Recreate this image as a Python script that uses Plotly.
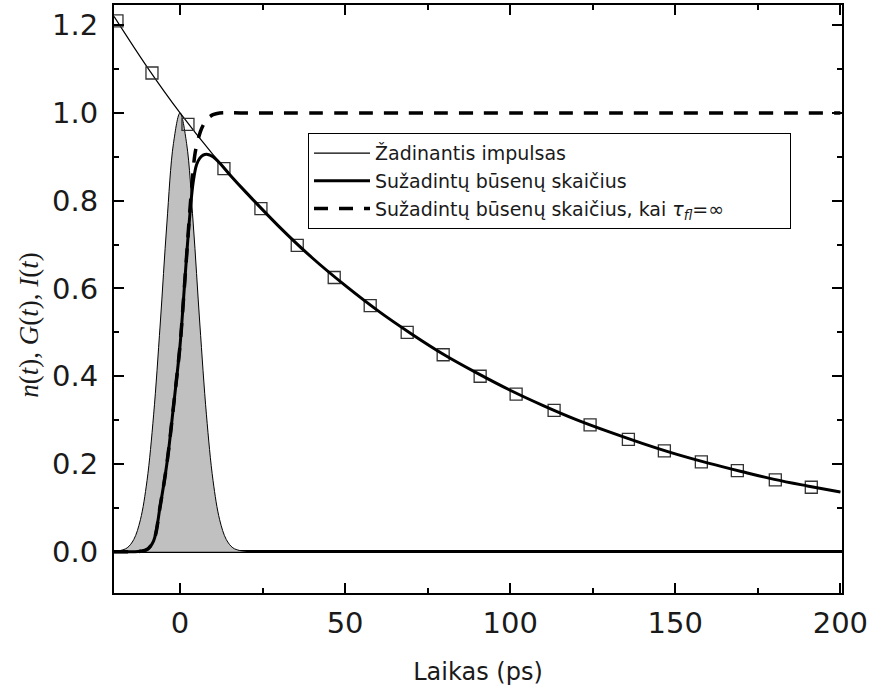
import plotly.graph_objects as go

# ---- data ----
# excitation pulse (grey filled gaussian)
pulse_t = [-20, -18, -16, -14, -12, -10, -8, -6, -4, -2, 0, 2, 4, 6, 8, 10, 12, 14, 16, 18, 20]
pulse_y = [0.001, 0.003, 0.009, 0.028, 0.073, 0.162, 0.312, 0.519, 0.747, 0.930, 1.0,
           0.930, 0.747, 0.519, 0.312, 0.162, 0.073, 0.028, 0.009, 0.003, 0.001]

# thin decay line
decay_t = [-20, -10, 0, 10, 20, 30, 40, 50, 60, 70, 80, 90, 100, 110, 120, 130, 140, 150,
           160, 170, 180, 190, 200]
decay_y = [1.22, 1.105, 1.0, 0.905, 0.819, 0.741, 0.670, 0.607, 0.549, 0.497, 0.449, 0.407,
           0.368, 0.333, 0.301, 0.273, 0.247, 0.223, 0.202, 0.183, 0.165, 0.150, 0.136]

# square markers
sq_t = [-19.1, -8.5, 2.4, 13.3, 24.5, 35.5, 46.7, 57.6, 68.8, 79.7, 90.9, 101.8, 113.3,
        124.2, 135.8, 146.7, 157.9, 168.8, 180.3, 191.2]
sq_y = [1.21, 1.091, 0.974, 0.873, 0.782, 0.698, 0.625, 0.561, 0.500, 0.449, 0.400, 0.359,
        0.322, 0.289, 0.256, 0.230, 0.205, 0.185, 0.164, 0.147]

# number of excited states
n_t = [-20, -14, -12, -10, -8, -6, -4, -2, 0, 1, 2, 3, 4, 5, 6, 7, 8, 9, 10, 12, 15,
       20, 30, 40, 50, 60, 70, 80, 90, 100, 110, 120, 130, 140, 150, 160, 170, 180, 190, 200]
n_y = [0.0, 0.0, 0.001, 0.005, 0.025, 0.105, 0.20, 0.33, 0.47, 0.57, 0.675, 0.77, 0.843,
       0.882, 0.897, 0.904, 0.906, 0.904, 0.90, 0.886, 0.860, 0.819, 0.741, 0.670, 0.607,
       0.549, 0.497, 0.449, 0.407, 0.368, 0.333, 0.301, 0.273, 0.247, 0.223, 0.202, 0.183,
       0.165, 0.150, 0.136]

# number of excited states when tau_fl = infinity
inf_t = [-20, -14, -12, -10, -8, -6, -4, -2, 0, 1, 2, 3, 4.4, 5, 6.2, 7, 8, 10, 12, 20, 200]
inf_y = [0.0, 0.0, 0.001, 0.005, 0.025, 0.105, 0.20, 0.33, 0.47, 0.57, 0.675, 0.78,
         0.90, 0.925, 0.958, 0.972, 0.985, 0.996, 1.0, 1.0, 1.0]

legend_names = ["Žadinantis impulsas",
                "Sužadintų būsenų skaičius",
                "Sužadintų būsenų skaičius, kai <i>τ</i><sub><i>fl</i></sub>=∞"
                + "&nbsp;" * 10]

fig = go.Figure()

fig.add_trace(go.Scatter(x=pulse_t, y=pulse_y, mode="lines", fill="tozeroy",
                         fillcolor="#c0c0c0", line=dict(color="black", width=1, shape="spline"),
                         showlegend=False, hoverinfo="skip"))
fig.add_trace(go.Scatter(x=decay_t, y=decay_y, mode="lines", name=legend_names[0],
                         line=dict(color="black", width=1.2, shape="spline"), legendrank=1))
fig.add_trace(go.Scatter(x=sq_t, y=sq_y, mode="markers", showlegend=False,
                         marker=dict(symbol="square-open", size=12, color="#333",
                                     line=dict(width=1.3, color="#333"))))
fig.add_trace(go.Scatter(x=inf_t, y=inf_y, mode="lines", name=legend_names[2],
                         line=dict(color="black", width=3.5, dash="14px,11px", shape="spline"),
                         legendrank=3))
fig.add_trace(go.Scatter(x=n_t, y=n_y, mode="lines", name=legend_names[1],
                         line=dict(color="black", width=3, shape="spline"), legendrank=2))

tickfont = dict(family="DejaVu Sans", size=29, color="#1a1a1a")
axis_common = dict(showgrid=False, showline=True, linecolor="black", linewidth=2,
                   mirror="allticks", ticks="inside", ticklen=10, tickwidth=2,
                   tickcolor="black", tickfont=tickfont, automargin=False)

fig.update_xaxes(range=[-20, 200.5], dtick=50, tick0=0, zeroline=False,
                 minor=dict(dtick=25, ticks="inside", ticklen=5, tickwidth=2, tickcolor="black"),
                 ticklabelstandoff=3,
                 title=dict(text="Laikas (ps)", font=dict(family="DejaVu Sans", size=24,
                                                         color="#1a1a1a"), standoff=24),
                 **axis_common)
fig.update_yaxes(range=[-0.094, 1.246], dtick=0.2, tick0=0, tickformat=".1f",
                 zeroline=True, zerolinecolor="black", zerolinewidth=2.5,
                 minor=dict(dtick=0.1, ticks="inside", ticklen=5, tickwidth=2, tickcolor="black"),
                 ticklabelstandoff=8, **axis_common)

fig.add_annotation(text="<i>n</i>(<i>t</i>), <i>G</i>(<i>t</i>), <i>I</i>(<i>t</i>)",
                   xref="paper", yref="paper", x=-0.117, y=0.456, textangle=-90,
                   xanchor="center", yanchor="middle",
                   showarrow=False, font=dict(family="Liberation Serif", size=27, color="#1a1a1a"))

fig.update_layout(
    width=874, height=694,
    margin=dict(l=114, r=32, t=5, b=101),
    plot_bgcolor="white", paper_bgcolor="white",
    legend=dict(x=0.2665, y=0.782, xanchor="left", yanchor="top",
                bordercolor="black", borderwidth=1, bgcolor="white",
                font=dict(family="DejaVu Sans", size=19, color="#1a1a1a"),
                tracegroupgap=0, itemwidth=56),
)

fig.write_html("out.html", config={"displayModeBar": False},
               post_script="document.body.style.margin='0';")
